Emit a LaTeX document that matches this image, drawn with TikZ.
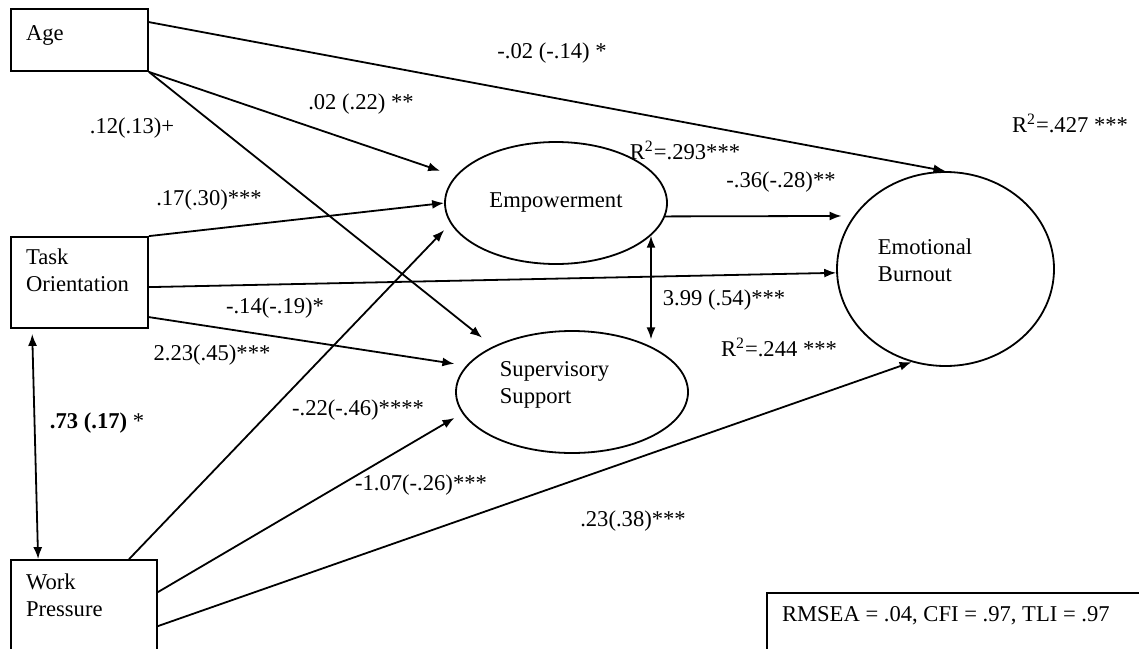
\documentclass[tikz,border=0pt]{standalone}
\usepackage{fontspec}
\setmainfont{Liberation Serif}
\usepackage{tikz}
\usetikzlibrary{shapes}
\usetikzlibrary{arrows.meta}
\tikzset{
  var node/.style={rectangle,draw,inner sep=0pt},
  latent node/.style={ellipse,draw,inner sep=0pt},
  box text/.style={anchor=north west,align=left,inner xsep=7.5pt,inner ysep=6pt},
  coef/.style={inner sep=0pt}
}

\begin{document}
\begin{tikzpicture}[->,>={Latex[length=6pt,width=4.5pt]},x=0.5pt,y=-0.5pt,line width=0.9pt,
        font=\fontsize{11.3}{13.4}\selectfont]
  \useasboundingbox (0,0) rectangle (1139,648);
  \clip (0,0) rectangle (1139,648);
  \node [var node,minimum width=68.5pt,minimum height=31pt,
         label={[box text,yshift=-2.5pt]north west:Age}] (1) at (79.5,40) {};
  \node [var node,minimum width=68.5pt,minimum height=45.5pt,
         label={[box text]north west:{Task\\Orientation}}] (2) at (79.5,282.5) {};
  \node [var node,minimum width=73pt,minimum height=60pt,
         label={[box text,yshift=-1pt]north west:{Work\\Pressure}}] (3) at (84,620) {};
  \node [latent node,minimum width=111pt,minimum height=61pt] (4) at (556,203) {Empowerment};
  \node [latent node,minimum width=116pt,minimum height=61pt,
         label={[align=left,xshift=-8.75pt,yshift=3.5pt]center:{Supervisory\\Support}}] (5) at (572,392) {};
  \node [latent node,minimum width=108.5pt,minimum height=97pt,
         label={[align=left,xshift=-10.25pt,yshift=4.5pt]center:{Emotional\\Burnout}}] (6) at (945.5,269) {};
  \node [var node,minimum width=196.5pt,minimum height=43.5pt,
         label={[box text,inner ysep=6.5pt]north west:{RMSEA = .04, CFI = .97, TLI = .97}}] (7) at (963.5,636.5) {};

  \draw ([shift={(0,14)}]1.north east) -- (6.north);
  \draw [shorten >=8pt] (1.south east) -- (4.165);
  \draw [shorten >=7pt] (1.south east) -- (5.150);
  \draw (2.north east) -- (4.west);
  \draw ([shift={(0,51)}]2.north east) -- (6.182);
  \draw [shorten >=6pt] ([shift={(0,81)}]2.north east) -- (5.166);
  \draw [<->,shorten <=2.5pt] ([shift={(22,0)}]2.south west) -- ([shift={(28,0)}]3.north west);
  \draw [shorten >=4.5pt] ([shift={(119,0)}]3.north west) -- (4.191);
  \draw [shorten >=4.5pt] ([shift={(0,33)}]3.north east) -- (5.191);
  \draw ([shift={(0,67)}]3.north east) -- (6.250);
  \draw [shorten >=6pt] (4.-7) -- (6.150);
  \draw [<->,shorten >=3.5pt] (4.-19) -- (4.-19 |- 5.30);

  \node [coef] (8) at (552,53) {-.02 (-.14) *};
  \node [coef] (9) at (361,104) {.02 (.22) **};
  \node [coef] (10) at (132,128) {.12(.13)+};
  \node [coef] (11) at (209,200) {.17(.30)***};
  \node [coef] (12) at (275,308) {-.14(-.19)*};
  \node [coef] (13) at (212,355) {2.23(.45)***};
  \node [coef] (14) at (97,423) {\textbf{.73 (.17)} *};
  \node [coef] (15) at (358,410) {-.22(-.46)****};
  \node [coef] (16) at (421,485) {-1.07(-.26)***};
  \node [coef] (17) at (633,521) {.23(.38)***};
  \node [coef] (18) at (781,182) {-.36(-.28)**};
  \node [coef] (19) at (724,300) {3.99 (.54)***};
  \node [coef] (20) at (685,150) {R\textsuperscript{2}=.293***};
  \node [coef] (21) at (779,347) {R\textsuperscript{2}=.244 ***};
  \node [coef] (22) at (1070,123) {R\textsuperscript{2}=.427 ***};
\end{tikzpicture}
\end{document}
